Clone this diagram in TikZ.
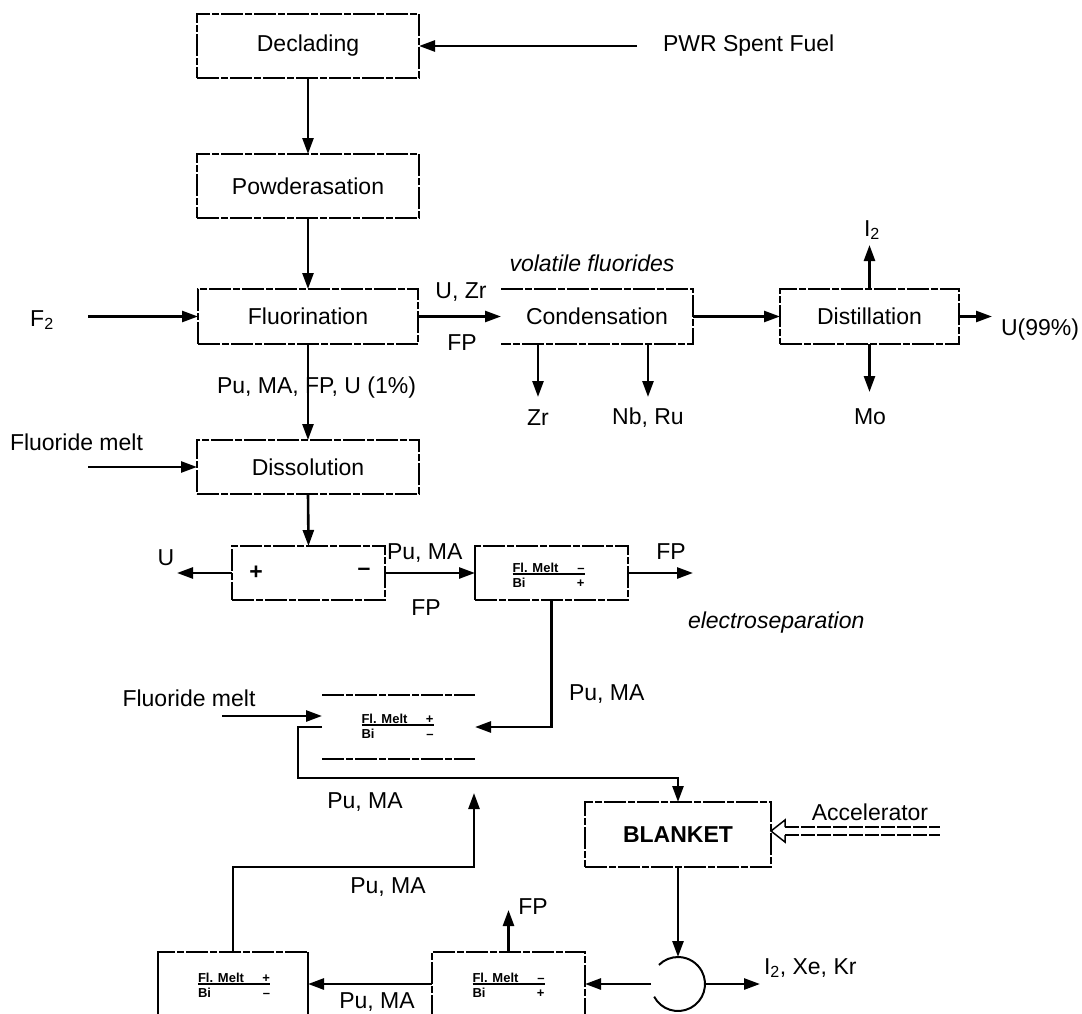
\documentclass[tikz,border=0pt]{standalone}
\usepackage{fontspec}
\setmainfont{Liberation Sans}
\usetikzlibrary{arrows.meta,calc}

% two-line electrode label: "Fl. Melt <sign>" over "Bi <sign>"
\newcommand\meltfrac[2]{\vbox{\hbox to 72pt{Fl. Melt\hfil #1}\kern1pt\hrule height 1.3pt\kern3pt\hbox to 72pt{Bi\hfil #2}}}

\begin{document}
\begin{tikzpicture}[x=1pt,y=-1pt,
  every node/.style={font=\fontsize{23}{27}\selectfont, inner sep=0pt, outer sep=0pt},
  boxline/.style={line width=1.8pt, dash pattern=on 22pt off 2pt on 7pt off 2pt},
  box/.style={boxline, draw},
  conn/.style={line width=2.6pt},
  arr/.style={conn, -{Triangle[length=16pt,width=11pt]}},
  melt/.style={font=\fontsize{13}{14}\bfseries\selectfont},
  ital/.style={font=\fontsize{23}{27}\itshape\selectfont},
]
\useasboundingbox (0,0) rectangle (1082,1013);
\clip (0,0) rectangle (1082,1013);

% ---- process boxes ----
\node[box, minimum width=222pt, minimum height=64pt] (decl) at (308,46) {Declading};
\node[box, minimum width=222pt, minimum height=64pt] (powd) at (308,186) {Powderasation};
\node[box, minimum width=220pt, minimum height=55pt] (fluor) at (308,316.5) {Fluorination};
\node[minimum width=192pt, minimum height=55pt] (cond) at (597,316.5) {Condensation};
\draw[boxline] (cond.north west) -- (cond.north east) -- (cond.south east) -- (cond.south west);
\node[box, minimum width=179pt, minimum height=55pt] (dist) at (869.5,316.5) {Distillation};
\node[box, minimum width=222pt, minimum height=54pt] (diss) at (308,467) {Dissolution};

% electrolysis cell
\node[box, minimum width=153pt, minimum height=54pt] (elec) at (308.5,573) {};
\node[font=\fontsize{23}{27}\bfseries\selectfont] (anode) at (256,573) {+};
\node[font=\fontsize{23}{27}\bfseries\selectfont] (cathode) at (364,572) {–};

% electroseparation cells
\node[box, minimum width=153pt, minimum height=54pt] (sepa) at (551.5,573) {};
\draw[line width=2.6pt] (sepa.north west) -- (sepa.south west);
\node[melt] (melta) at (548.5,575) {\meltfrac{–}{+}};

\node[minimum width=153pt, minimum height=64pt] (sepb) at (398.5,727) {};
\draw[boxline] (sepb.north west) -- (sepb.north east);
\draw[boxline] (sepb.south west) -- (sepb.south east);
\node[melt] (meltb) at (397.5,726) {\meltfrac{+}{–}};

\node[box, minimum width=186pt, minimum height=65pt, font=\fontsize{23}{27}\bfseries\selectfont] (blanket) at (678,834.5) {BLANKET};

\node[box, minimum width=153pt, minimum height=80pt] (sepc) at (508.5,992) {};
\node[melt] (meltc) at (508.5,985) {\meltfrac{–}{+}};

\node[box, minimum width=150pt, minimum height=80pt] (sepd) at (233,992) {};
\draw[line width=2.6pt] (sepd.north west) -- (sepd.south west);
\draw[line width=2.6pt] (sepd.north east) -- (sepd.south east);
\node[melt] (meltd) at (234,985) {\meltfrac{+}{–}};

% gas separator (open circle)
\node[circle, minimum size=54pt] (sw) at (678,984) {};
\draw[line width=2pt] (sw.center) ++(152:27) arc[start angle=152, end angle=-135, radius=27];

% ---- labels ----
\node[anchor=west] (pwr) at (663,46) {PWR Spent Fuel};
\node (f2) at (42,320) {F\textsubscript{2}};
\node (uzr) at (461,292) {U, Zr};
\node (fpa) at (462,343) {FP};
\node[ital] (volf) at (592,263) {volatile fluorides};
\node (zr) at (538,418) {Zr};
\node (nbru) at (648,418) {Nb, Ru};
\node (i2) at (872,230) {I\textsubscript{2}};
\node (mo) at (870,417) {Mo};
\node[anchor=west] (u99) at (1001,330) {U(99\%)};
\node[anchor=west] (pumafpu) at (217,388) {Pu, MA, FP, U (1\%)};
\node[anchor=west] (fm1) at (10,442) {Fluoride melt};
\node (ulab) at (166,558) {U};
\node[anchor=west] (puma1) at (387,553) {Pu, MA};
\node (fpb) at (426,608) {FP};
\node (fpc) at (671,552) {FP};
\node[ital, anchor=west] (esep) at (688,623) {electroseparation};
\node[anchor=west] (puma2) at (569,694) {Pu, MA};
\node (fm2) at (189,698) {Fluoride melt};
\node (puma3) at (365,802) {Pu, MA};
\node (puma4) at (388,887) {Pu, MA};
\node (accl) at (870,812) {Accelerator};
\node[anchor=west] (i2xekr) at (764,968) {I\textsubscript{2}, Xe, Kr};
\node (fpd) at (533,907) {FP};
\node (puma5) at (377,1002) {Pu, MA};

% ---- free ends of streams ----
\coordinate (pwrS) at (637,46);
\coordinate (f2S) at (88,316.5);
\coordinate (zrE) at (538,397);
\coordinate (nbE) at (648,397);
\coordinate (i2E) at (869.5,245);
\coordinate (moE) at (869.5,392);
\coordinate (u99E) at (992,316.5);
\coordinate (fm1S) at (88,467);
\coordinate (uE) at (177,573);
\coordinate (fpE) at (693,573);
\coordinate (fm2S) at (222,716);
\coordinate (upT) at (474,793);
\coordinate (accS) at (940,831);
\coordinate (i2xE) at (760,984);
\coordinate (fpdE) at (508.5,910);

% ---- connectors ----
\draw[arr] (pwrS) -- (pwrS -| decl.east);
\draw[arr] (decl.south) -- (powd.north);
\draw[arr] (powd.south) -- (fluor.north);
\draw[arr] (f2S) -- (fluor.west);
\draw[arr] (fluor.east) -- (cond.west);
\draw[arr] (zrE |- cond.south) -- (zrE);
\draw[arr] (nbE |- cond.south) -- (nbE);
\draw[arr] (cond.east) -- (dist.west);
\draw[arr] (dist.north) -- (i2E);
\draw[arr] (dist.south) -- (moE);
\draw[arr] (dist.east) -- (u99E);
\draw[arr] (fluor.south) -- (diss.north);
\draw[arr] (fm1S) -- (diss.west);
\draw[arr] (diss.south) -- (elec.north);
\draw[arr] (elec.west) -- (uE);
\draw[arr] (elec.east) -- (sepa.west);
\draw[arr] (sepa.east) -- (fpE);
\draw[arr] (sepa.south) |- (sepb.east);
\draw[arr] (fm2S) -- (fm2S -| sepb.west);
\draw[arr] (sepb.west) -- ++(-24,0) -- ++(0,51) -| (blanket.north);
\draw[arr] (sepd.north) |- ($(upT)+(0,74)$) -- (upT);
\draw[arr] (blanket.south) -- (sw.north);
\draw[arr] (sw.west) -- (sw.west -| sepc.east);
\draw[arr] (sw.east) -- (i2xE);
\draw[arr] (sepc.north) -- (fpdE);
\draw[arr] (sw.west -| sepc.west) -- (sw.west -| sepd.east);

% accelerator beam: hollow double arrow
\coordinate (tip) at (blanket.east |- accS);
\draw[line width=1.5pt, dash pattern=on 14pt off 2pt] ($(tip)+(14,-4)$) -- ($(accS)+(0,-4)$);
\draw[line width=1.5pt, dash pattern=on 14pt off 2pt] ($(tip)+(14,4)$) -- ($(accS)+(0,4)$);
\draw[line width=1.5pt] ($(tip)+(14,-4)$) -- ($(tip)+(14,-11)$) -- (tip) -- ($(tip)+(14,11)$) -- ($(tip)+(14,4)$);
\end{tikzpicture}
\end{document}
